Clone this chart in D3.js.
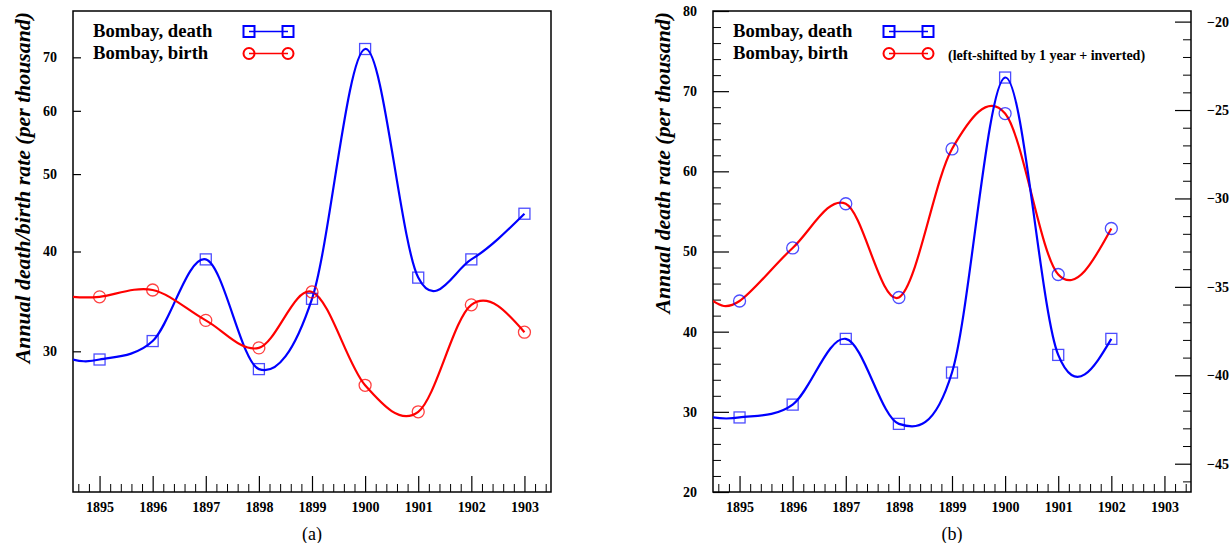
<!DOCTYPE html>
<html><head><meta charset="utf-8">
<script src="https://cdn.jsdelivr.net/npm/d3@7"></script>
<style>
body{margin:0;background:#fff}
svg{display:block}
text{font-family:"Liberation Serif","Times New Roman",Times,serif}
</style>
</head><body>
<svg id="c" width="1230" height="543"></svg>
<script>
// ---- data ----
const years = [1895, 1896, 1897, 1898, 1899, 1900, 1901, 1902, 1903];
const deathRate = [29.3, 30.9, 39.1, 28.5, 34.9, 71.7, 37.1, 39.1, 44.6];
const birthRate = [35.1, 35.8, 32.8, 30.3, 35.6, 27.2, 25.2, 34.3, 31.7];
const xTickLabels = ["1895","1896","1897","1898","1899","1900","1901","1902","1903"];
const logTicks = [30, 40, 50, 60, 70];
const linTicks = [20, 30, 40, 50, 60, 70, 80];
const invTicks = [-20, -25, -30, -35, -40, -45];
const legendLabels = ["Bombay, death", "Bombay, birth"];
const noteText = "(left-shifted by 1 year + inverted)";
const panelLabels = ["(a)", "(b)"];
const yTitles = ["Annual death/birth rate (per thousand)", "Annual death rate (per thousand)"];

// derived series for panel b: birth shifted left by one year and negated
const shiftedYears = years.slice(0, -1);
const deathB = deathRate.slice(0, -1);
const birthShiftedInv = birthRate.slice(1).map(v => -v);

const BLUE = "#0000ff", RED = "#ff0000";
const MBLUE = "rgba(0,0,255,0.7)", MRED = "rgba(255,0,0,0.75)";

const svg = d3.select("#c");
const plotTop = 11, plotBottom = 492, panelW = 478;
const panels = [{x0: 73}, {x0: 713}];

function styleText(a) {
  a.selectAll("text").attr("font-size", 14).attr("font-weight", "bold")
    .attr("fill", "#000").style("font-family", '"Liberation Serif","Times New Roman",serif');
}

// Catmull-Rom interior tangents with natural end conditions, drawn as cubic Beziers
function smoothPath(pts) {
  const n = pts.length, m = new Array(n);
  for (let i = 1; i < n - 1; i++) {
    m[i] = [(pts[i + 1][0] - pts[i - 1][0]) / 2, (pts[i + 1][1] - pts[i - 1][1]) / 2];
  }
  m[0] = [0, 1].map(k => (3 * (pts[1][k] - pts[0][k]) - m[1][k]) / 2);
  m[n - 1] = [0, 1].map(k => (3 * (pts[n - 1][k] - pts[n - 2][k]) - m[n - 2][k]) / 2);
  const p = d3.path();
  p.moveTo(pts[0][0], pts[0][1]);
  for (let i = 0; i < n - 1; i++) {
    p.bezierCurveTo(pts[i][0] + m[i][0] / 3, pts[i][1] + m[i][1] / 3,
      pts[i + 1][0] - m[i + 1][0] / 3, pts[i + 1][1] - m[i + 1][1] / 3,
      pts[i + 1][0], pts[i + 1][1]);
  }
  return p.toString();
}

function drawPanel(idx) {
  const x0 = panels[idx].x0, x1 = x0 + panelW;
  const g = svg.append("g");
  const x = d3.scaleLinear().domain([1894.5, 1903.5]).range([x0, x1]);

  const clipId = "clip" + idx;
  svg.append("clipPath").attr("id", clipId).append("rect")
    .attr("x", x0).attr("y", plotTop).attr("width", panelW).attr("height", plotBottom - plotTop);

  // x axis: minor ticks
  const minor = d3.range(1894.6, 1903.5, 0.2).filter(v => Math.abs(v - Math.round(v)) > 0.01);
  g.append("g").attr("transform", `translate(0,${plotBottom})`)
    .call(d3.axisBottom(x).tickValues(minor).tickSize(-8).tickFormat(""))
    .call(a => a.select(".domain").remove())
    .call(a => a.selectAll("line").attr("stroke", "#000").attr("stroke-width", 1));
  g.append("g").attr("transform", `translate(0,${plotBottom})`)
    .call(d3.axisBottom(x).tickValues(years).tickSize(-16).tickPadding(10)
      .tickFormat((d, i) => xTickLabels[i]))
    .call(a => a.select(".domain").remove())
    .call(a => a.selectAll("line").attr("stroke", "#000").attr("stroke-width", 1.2))
    .call(styleText);

  let yL;
  if (idx === 0) {
    yL = d3.scaleLog().domain([20, 80]).range([plotBottom, plotTop]);
    g.append("g").attr("transform", `translate(${x0},0)`)
      .call(d3.axisLeft(yL).tickValues(logTicks).tickSize(-8).tickPadding(16).tickFormat(d3.format("d")))
      .call(a => a.select(".domain").remove())
      .call(a => a.selectAll("line").attr("stroke", "#000").attr("stroke-width", 1.2))
      .call(styleText);
  } else {
    yL = d3.scaleLinear().domain([20, 80]).range([plotBottom, plotTop]);
    g.append("g").attr("transform", `translate(${x0},0)`)
      .call(d3.axisLeft(yL).tickValues(d3.range(22, 80, 2).filter(v => v % 10 !== 0)).tickSize(-8).tickFormat(""))
      .call(a => a.select(".domain").remove())
      .call(a => a.selectAll("line").attr("stroke", "#000").attr("stroke-width", 1));
    g.append("g").attr("transform", `translate(${x0},0)`)
      .call(d3.axisLeft(yL).tickValues(linTicks).tickSize(-16).tickPadding(16).tickFormat(d3.format("d")))
      .call(a => a.select(".domain").remove())
      .call(a => a.selectAll("line").attr("stroke", "#000").attr("stroke-width", 1.2))
      .call(styleText);
  }

  // right axis for panel b
  let yR = null;
  if (idx === 1) {
    yR = d3.scaleLinear().domain([-46.6, -19.4]).range([plotBottom, plotTop]);
    g.append("g").attr("transform", `translate(${x1},0)`)
      .call(d3.axisRight(yR).tickValues(d3.range(-46, -19, 1).filter(v => v % 5 !== 0)).tickSize(-8).tickFormat(""))
      .call(a => a.select(".domain").remove())
      .call(a => a.selectAll("line").attr("stroke", "#000").attr("stroke-width", 1));
    g.append("g").attr("transform", `translate(${x1},0)`)
      .call(d3.axisRight(yR).tickValues(invTicks).tickSize(-16).tickPadding(16).tickFormat(d3.format("d")))
      .call(a => a.select(".domain").remove())
      .call(a => a.selectAll("line").attr("stroke", "#000").attr("stroke-width", 1.2))
      .call(styleText);
  }

  // frame
  g.append("rect").attr("x", x0).attr("y", plotTop).attr("width", panelW).attr("height", plotBottom - plotTop)
    .attr("fill", "none").attr("stroke", "#000").attr("stroke-width", 1.5);

  // series
  let series;
  if (idx === 0) {
    series = [
      {xs: years, ys: deathRate, scale: yL, color: BLUE, mcolor: MBLUE, shape: "sq"},
      {xs: years, ys: birthRate, scale: yL, color: RED, mcolor: MRED, shape: "ci"}
    ];
  } else {
    series = [
      {xs: shiftedYears, ys: birthShiftedInv, scale: yR, color: RED, mcolor: MBLUE, shape: "ci"},
      {xs: shiftedYears, ys: deathB, scale: yL, color: BLUE, mcolor: MBLUE, shape: "sq"}
    ];
  }
  const lg = g.append("g").attr("clip-path", `url(#${clipId})`);
  series.forEach(s => {
    // curve starts at the frame edge, held at the first value
    const pts = [[x(x.domain()[0]), s.scale(s.ys[0])]]
      .concat(s.xs.map((v, i) => [x(v), s.scale(s.ys[i])]));
    lg.append("path").attr("d", smoothPath(pts)).attr("fill", "none")
      .attr("stroke", s.color).attr("stroke-width", 2.2);
  });
  series.forEach(s => {
    const mg = g.append("g");
    s.xs.forEach((v, i) => {
      const cx = x(v), cy = s.scale(s.ys[i]);
      if (s.shape === "sq") {
        mg.append("rect").attr("x", cx - 5.5).attr("y", cy - 5.5).attr("width", 11).attr("height", 11)
          .attr("fill", "none").attr("stroke", s.mcolor).attr("stroke-width", 1.3);
      } else {
        mg.append("circle").attr("cx", cx).attr("cy", cy).attr("r", 6)
          .attr("fill", "none").attr("stroke", s.mcolor).attr("stroke-width", 1.3);
      }
    });
  });

  // legend
  const lx = x0 + 20, sx0 = x0 + 176, sx1 = x0 + 215;
  const rowsY = [31.5, 53.5];
  legendLabels.forEach((lab, i) => {
    g.append("text").attr("x", lx).attr("y", rowsY[i] + 5.5).attr("font-size", 18.7)
      .attr("font-weight", "bold").attr("fill", "#000").text(lab);
    const c = i === 0 ? BLUE : RED;
    g.append("line").attr("x1", sx0).attr("x2", sx1).attr("y1", rowsY[i]).attr("y2", rowsY[i])
      .attr("stroke", c).attr("stroke-width", 1.5);
    [sx0, sx1].forEach(px => {
      if (i === 0) {
        g.append("rect").attr("x", px - 5.5).attr("y", rowsY[i] - 5.5).attr("width", 11).attr("height", 11)
          .attr("fill", "none").attr("stroke", c).attr("stroke-width", 2);
      } else {
        g.append("circle").attr("cx", px).attr("cy", rowsY[i]).attr("r", 5.5)
          .attr("fill", "none").attr("stroke", c).attr("stroke-width", 2);
      }
    });
  });
  if (idx === 1) {
    g.append("text").attr("x", x0 + 235).attr("y", rowsY[1] + 6).attr("font-size", 14)
      .attr("font-weight", "bold").attr("fill", "#000").text(noteText);
  }

  // y title
  g.append("text").attr("transform", `translate(${x0 - 43},12) rotate(-90)`)
    .attr("text-anchor", "end").attr("font-size", 21.8).attr("font-weight", "bold")
    .attr("font-style", "italic").attr("fill", "#000").text(yTitles[idx]);

  // panel label
  g.append("text").attr("x", (x0 + x1) / 2).attr("y", 540).attr("text-anchor", "middle")
    .attr("font-size", 18).attr("fill", "#000").text(panelLabels[idx]);
}

drawPanel(0);
drawPanel(1);
</script>
</body></html>
